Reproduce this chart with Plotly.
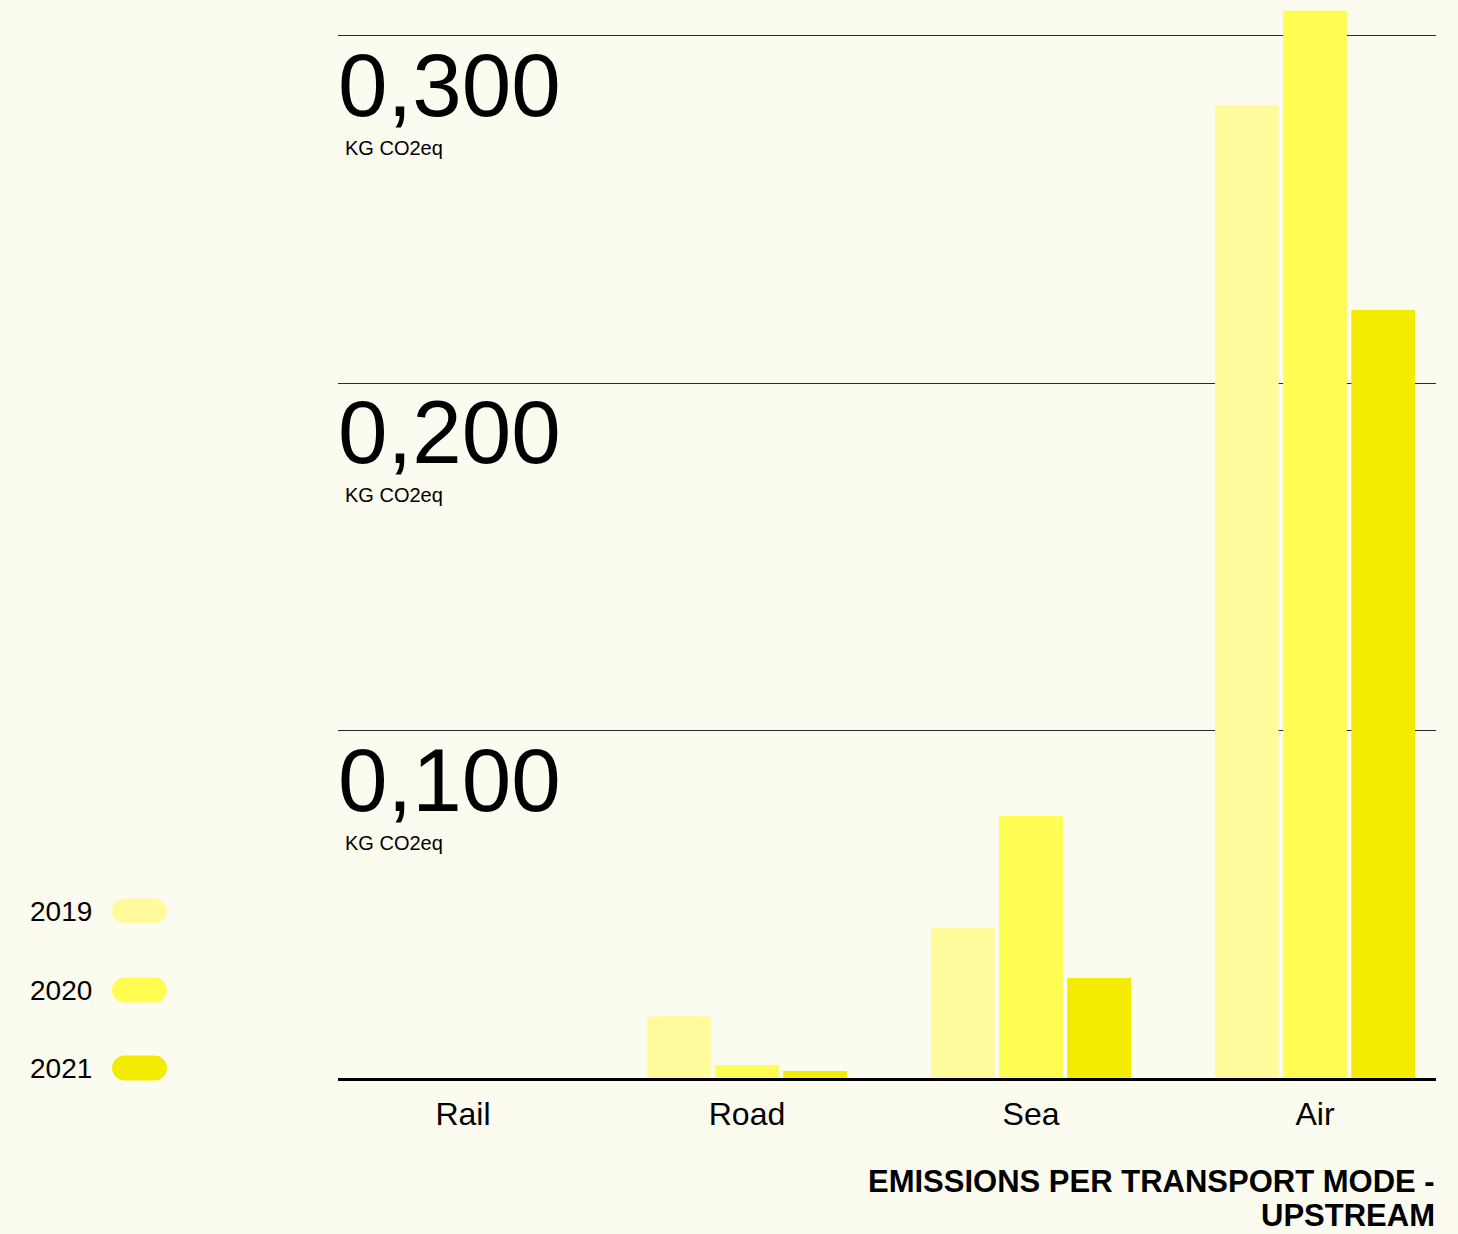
import plotly.graph_objects as go

categories = ["Rail", "Road", "Sea", "Air"]
years = ["2019", "2020", "2021"]
values_2019 = [0.0, 0.0178, 0.0432, 0.2800]
values_2020 = [0.0, 0.0037, 0.0754, 0.3071]
values_2021 = [0.0, 0.0020, 0.0288, 0.2210]
tick_values = [0.1, 0.2, 0.3]
tick_labels = ["0,100", "0,200", "0,300"]
unit_label = "KG CO2eq"
title_lines = ["EMISSIONS PER TRANSPORT MODE -", "UPSTREAM"]

colors = ["#FFFB9C", "#FFFC52", "#F3EC00"]
BG = "#FCFBF0"
FONT = "Liberation Sans, Arial, sans-serif"

W, H = 1458, 1234
ML, MR, MT, MB = 338, 22, 0, 156
PW = W - ML - MR
PH = H - MT - MB


def px_to_paper_x(px):
    return (px - ML) / PW


def px_to_paper_y(py):
    return (H - MB - py) / PH


fig = go.Figure()
series = [values_2019, values_2020, values_2021]
xs = list(range(len(categories)))
for yr, vals, col in zip(years, series, colors):
    fig.add_trace(go.Bar(x=xs, y=vals, name=yr, marker=dict(color=col, line=dict(width=0)),
                         showlegend=False))

annotations = []
for tv, tl in zip(tick_values, tick_labels):
    annotations.append(dict(xref="paper", yref="y", x=0, y=tv, xanchor="left", yanchor="top",
                            xshift=-2, yshift=3, text=tl, showarrow=False,
                            font=dict(family=FONT, size=89, color="#000")))
    annotations.append(dict(xref="paper", yref="y", x=0, y=tv, xanchor="left", yanchor="top",
                            xshift=5, yshift=-99, text=unit_label, showarrow=False,
                            font=dict(family=FONT, size=20, color="#000")))

# title lines
for line, py in zip(title_lines, [1181, 1215]):
    annotations.append(dict(xref="paper", yref="paper", x=1, y=px_to_paper_y(py),
                            xanchor="right", yanchor="middle", text="<b>" + line + "</b>",
                            showarrow=False, borderpad=0,
                            font=dict(family=FONT, size=31, color="#000")))

# custom legend
shapes = []
legend_y = [911, 990, 1068]
r = 12.5
hw = 27.5
k = 0.5523 * r
a = hw - r
path = (f"M {-a},{-r} L {a},{-r} "
        f"C {a + k},{-r} {hw},{-k} {hw},0 "
        f"C {hw},{k} {a + k},{r} {a},{r} "
        f"L {-a},{r} "
        f"C {-a - k},{r} {-hw},{k} {-hw},0 "
        f"C {-hw},{-k} {-a - k},{-r} {-a},{-r} Z")
for yr, col, py in zip(years, colors, legend_y):
    annotations.append(dict(xref="paper", yref="paper", x=px_to_paper_x(28), y=px_to_paper_y(py),
                            xanchor="left", yanchor="middle", text=yr, showarrow=False,
                            font=dict(family=FONT, size=28, color="#000")))
    shapes.append(dict(type="path", xref="paper", yref="paper", xsizemode="pixel",
                       ysizemode="pixel", xanchor=px_to_paper_x(139.5), yanchor=px_to_paper_y(py),
                       path=path, fillcolor=col, line=dict(width=0)))

fig.update_layout(
    width=W, height=H,
    margin=dict(l=ML, r=MR, t=MT, b=MB),
    paper_bgcolor=BG, plot_bgcolor=BG,
    barmode="group", bargap=0.28, bargroupgap=0.065,
    annotations=annotations, shapes=shapes,
    font=dict(family=FONT, color="#000"),
    xaxis=dict(range=[-0.44, 3.426], tickvals=xs, ticktext=categories, showgrid=False,
               zeroline=False, showline=True, linecolor="#000", linewidth=3, ticks="",
               ticklabelstandoff=6,
               tickfont=dict(family=FONT, size=32, color="#000"), fixedrange=True),
    yaxis=dict(range=[0, (H - MB - MT) / 3475], tickvals=tick_values, showticklabels=False,
               showgrid=True, gridcolor="#2a2a2a", gridwidth=1, zeroline=False,
               showline=False, ticks="", fixedrange=True),
)

fig.write_html(
    "out.html",
    config={"displayModeBar": False},
    post_script="document.body.style.margin='0';document.body.style.background='#FCFBF0';"
                "document.documentElement.style.overflow='hidden';",
)
